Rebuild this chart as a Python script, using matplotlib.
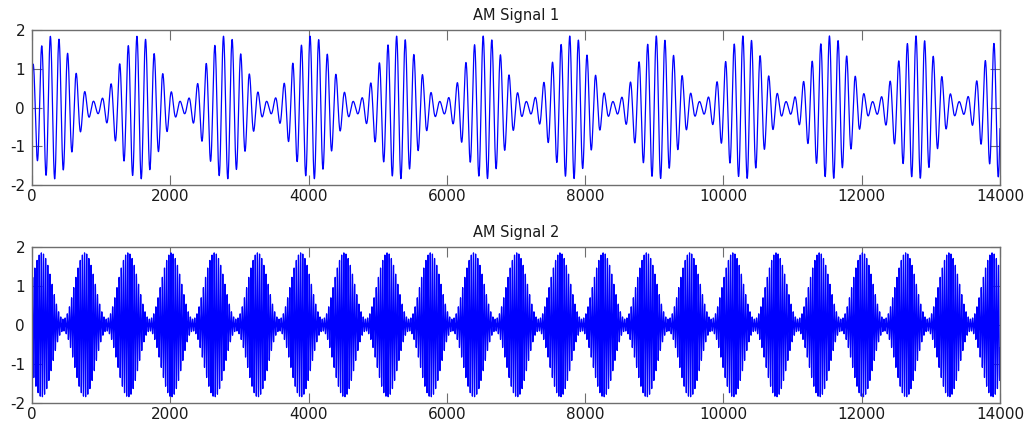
import numpy as np
import matplotlib
matplotlib.use("Agg")
import matplotlib.pyplot as plt

# ── Signal parameters ──────────────────────────────────────────────────
N_SAMPLES = 14000
TITLES = ["AM Signal 1", "AM Signal 2"]
ENV_PERIOD = [1250.0, 625.0]      # samples per envelope cycle
ENV_PEAK = [300.0, 140.0]         # sample of first envelope maximum
CARRIER_PERIOD = [125.2, 31.25]   # samples per carrier cycle
CARRIER_PEAK = [15.0, 10.0]       # sample of first carrier maximum
MOD_DEPTH = [0.85, 0.85]

X_TICKS = list(range(0, 14001, 2000))
Y_TICKS = [-2, -1, 0, 1, 2]

LINE_COLOUR = "#0000ff"
FRAME_COLOUR = "#6e6e6e"
TEXT_COLOUR = "#1a1a1a"

plt.rcParams.update({
    "font.family": ["DejaVu Sans"],
    "font.size": 11,
    "axes.unicode_minus": False,
    "xtick.direction": "in",
    "ytick.direction": "in",
})

n = np.arange(0, N_SAMPLES + 1)

fig = plt.figure(figsize=(10.29, 4.21), dpi=100)
positions = [
    [0.0311, 0.5606, 0.9407, 0.3681],
    [0.0311, 0.0428, 0.9407, 0.3705],
]

for i, pos in enumerate(positions):
    ax = fig.add_axes(pos)
    env = 1 + MOD_DEPTH[i] * np.cos(2 * np.pi * (n - ENV_PEAK[i]) / ENV_PERIOD[i])
    carrier = np.cos(2 * np.pi * (n - CARRIER_PEAK[i]) / CARRIER_PERIOD[i])
    ax.plot(n, env * carrier, color=LINE_COLOUR, linewidth=0.9)

    ax.set_xlim(0, N_SAMPLES)
    ax.set_ylim(-2, 2)
    ax.set_xticks(X_TICKS)
    ax.set_yticks(Y_TICKS)
    ax.tick_params(axis="both", which="both", top=True, right=True,
                   length=7, width=0.8, color=FRAME_COLOUR,
                   labelsize=11, labelcolor=TEXT_COLOUR)
    ax.tick_params(axis="x", pad=3)
    ax.tick_params(axis="y", pad=5)
    for sp in ax.spines.values():
        sp.set_color(FRAME_COLOUR)
        sp.set_linewidth(1.0)
    ax.set_title(TITLES[i], fontsize=10.5, color=TEXT_COLOUR, pad=7)

fig.savefig("out.png", dpi=100, facecolor="white")
